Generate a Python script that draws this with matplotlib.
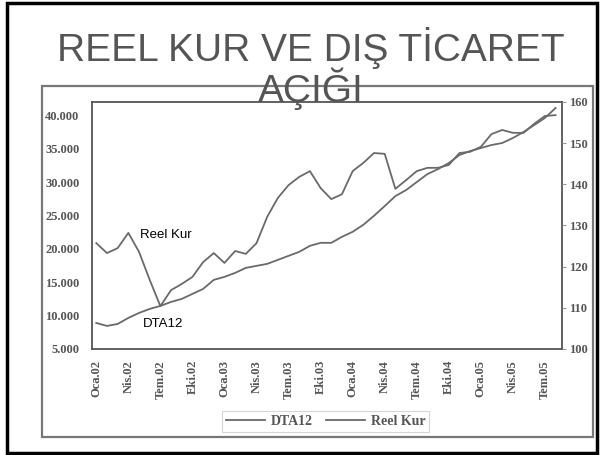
import matplotlib.pyplot as plt
from matplotlib.patches import Rectangle
import numpy as np

# monthly, Oca.02 .. Agu.05
dta12 = [8900, 8450, 8750, 9650, 10400, 11000, 11450, 12050, 12500, 13250,
         14000, 15350, 15800, 16400, 17150, 17450, 17750, 18350, 18950, 19550,
         20450, 20900, 20900, 21800, 22550, 23600, 24950, 26400, 27900, 28800,
         30000, 31200, 31950, 32850, 34050, 34650, 35100, 35550, 35850, 36600,
         37500, 38550, 39600, 41100]
reel_kur = [125.7, 123.3, 124.5, 128.2, 123.6, 116.8, 110.4, 114.3, 115.8, 117.5,
            121.1, 123.3, 120.9, 123.8, 123.1, 125.7, 132.1, 136.7, 139.8, 141.8,
            143.2, 139.1, 136.4, 137.6, 143.2, 145.2, 147.6, 147.4, 138.9, 141.0,
            143.2, 144.0, 144.0, 144.7, 147.6, 147.9, 149.1, 152.2, 153.2, 152.5,
            152.5, 154.7, 156.6, 156.8]
tick_labels = ['Oca.02', 'Nis.02', 'Tem.02', 'Eki.02', 'Oca.03', 'Nis.03', 'Tem.03',
               'Eki.03', 'Oca.04', 'Nis.04', 'Tem.04', 'Eki.04', 'Oca.05', 'Nis.05',
               'Tem.05']
left_ticks = [5000, 10000, 15000, 20000, 25000, 30000, 35000, 40000]
right_ticks = [100, 110, 120, 130, 140, 150, 160]

grey = '#6a6a6a'
lab = '#555555'
serif = 'Liberation Serif'

fig = plt.figure(figsize=(6.03, 4.55), dpi=100)

# cerceveler
fig.patches.append(Rectangle((0.0116, 0.004), 0.978, 0.99, transform=fig.transFigure,
                             fill=False, edgecolor='black', linewidth=2.5, zorder=0))
fig.patches.append(Rectangle((0.0697, 0.0396), 0.9138, 0.7714, transform=fig.transFigure,
                             fill=False, edgecolor='#777777', linewidth=1.6, zorder=0))

ax = fig.add_axes([0.1526, 0.233, 0.7794, 0.5429])
x = np.arange(len(dta12))
l1, = ax.plot(x, dta12, color=grey, linewidth=1.3)
ax.set_xlim(-0.4, 43.6)
ax.set_ylim(5000, 42000)
ax.set_yticks(left_ticks)
ax.set_yticklabels(['%d.000' % (v // 1000) for v in left_ticks])
ax.tick_params(axis='y', length=0, pad=9)
ax.set_xticks(x[::3])
ax.set_xticklabels(tick_labels, rotation=90)
ax.tick_params(axis='x', length=0, pad=8)
for t in ax.get_xticklabels() + ax.get_yticklabels():
    t.set_family(serif)
    t.set_fontweight('bold')
    t.set_color(lab)
    t.set_fontsize(9)
for s in ax.spines.values():
    s.set_color('#555555')
    s.set_linewidth(1.3)

ax2 = ax.twinx()
l2, = ax2.plot(x, reel_kur, color=grey, linewidth=1.3)
ax2.set_ylim(100, 160)
ax2.set_yticks(right_ticks)
ax2.tick_params(axis='y', length=3, color='#999999', pad=2)
for t in ax2.get_yticklabels():
    t.set_family(serif)
    t.set_fontweight('bold')
    t.set_color(lab)
    t.set_fontsize(9)
for s in ax2.spines.values():
    s.set_visible(False)

ax.text(4.1, 22000, 'Reel Kur', fontsize=9.5, family='Liberation Sans', va='center')
ax.text(4.4, 8800, 'DTA12', fontsize=9.5, family='Liberation Sans', va='center')

leg = fig.legend([l1, l2], ['DTA12', 'Reel Kur'], loc='center', ncol=2,
                 bbox_to_anchor=(0.54, 0.073), frameon=True, fancybox=False,
                 handlelength=2.8, handletextpad=0.4, columnspacing=1.0,
                 borderpad=0.3, prop={'family': serif, 'weight': 'bold', 'size': 10})
leg.get_frame().set_edgecolor('#cccccc')
leg.get_frame().set_linewidth(0.8)
for t in leg.get_texts():
    t.set_color(lab)

# baslik (iki satir tek metin)
fig.text(0.515, 0.849, 'REEL KUR VE DIŞ TİCARET\nAÇIĞI', ha='center', va='center',
         fontsize=28, family='Liberation Sans', color='#555555', linespacing=0.95)

fig.savefig('out.png', dpi=100)
